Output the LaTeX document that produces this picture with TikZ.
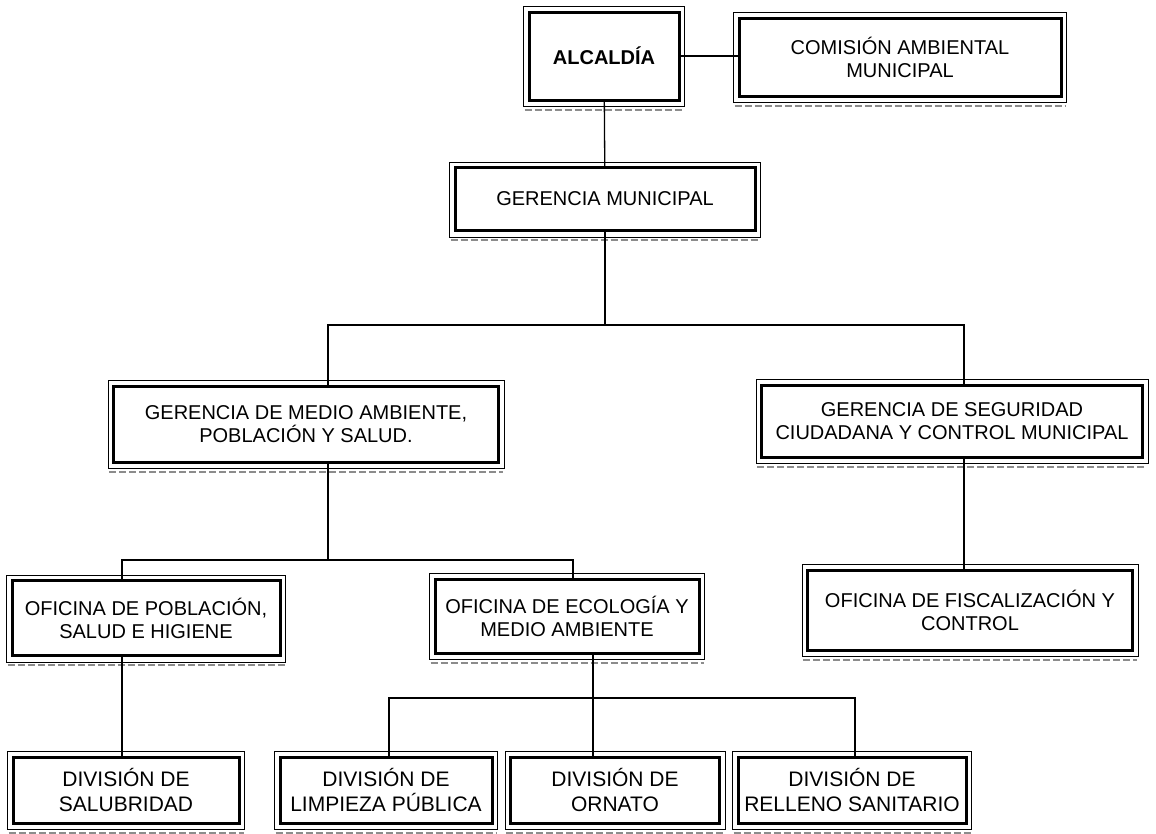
\documentclass[tikz,border=0pt]{standalone}
\usepackage{fontspec}
\setmainfont{Liberation Sans}
\usetikzlibrary{positioning, calc}

\tikzset{
    unit/.style={draw, line width=3pt, fill=white, align=center, inner sep=1pt,
        font=\fontsize{20}{23}\selectfont},
    link/.style={line width=1.3pt},
}

\begin{document}
\begin{tikzpicture}[x=1pt, y=-1pt]
    \useasboundingbox (0,0) rectangle (1156,833);

    % Top - mayor and commission
    \node[unit, minimum width=150pt, minimum height=88pt, font=\bfseries\fontsize{20}{23}\selectfont] (alc) at (604,56) {ALCALDÍA};
    \node[unit, minimum width=322pt, minimum height=78pt] (com) at (900,57) {COMISIÓN AMBIENTAL\\MUNICIPAL};
    \node[unit, minimum width=300pt, minimum height=63pt] (gm) at (605,199) {GERENCIA MUNICIPAL};

    % Second level - the two managements
    \node[unit, minimum width=385pt, minimum height=76pt] (gma) at (306,424) {GERENCIA DE MEDIO AMBIENTE,\\POBLACIÓN Y SALUD.};
    \node[unit, minimum width=381pt, minimum height=72pt] (gsc) at (952,421) {GERENCIA DE SEGURIDAD\\CIUDADANA Y CONTROL MUNICIPAL};

    % Third level - offices
    \node[unit, minimum width=268pt, minimum height=75pt] (ops) at (146,618) {OFICINA DE POBLACIÓN,\\SALUD E HIGIENE};
    \node[unit, minimum width=264pt, minimum height=74pt] (oem) at (567,616) {OFICINA DE ECOLOGÍA Y\\MEDIO AMBIENTE};
    \node[unit, minimum width=325pt, minimum height=80pt] (ofc) at (970,610) {OFICINA DE FISCALIZACIÓN Y\\CONTROL};

    % Bottom - divisions
    \node[unit, minimum width=226pt, minimum height=66pt, font=\fontsize{21}{25}\selectfont] (sal) at (126,790) {DIVISIÓN DE\\SALUBRIDAD};
    \node[unit, minimum width=212pt, minimum height=66pt, font=\fontsize{21}{25}\selectfont] (lim) at (386,790) {DIVISIÓN DE\\LIMPIEZA PÚBLICA};
    \node[unit, minimum width=209pt, minimum height=66pt, font=\fontsize{21}{25}\selectfont] (orn) at (615,790) {DIVISIÓN DE\\ORNATO};
    \node[unit, minimum width=228pt, minimum height=66pt, font=\fontsize{21}{25}\selectfont] (rel) at (852,790) {DIVISIÓN DE\\RELLENO SANITARIO};

    % thin outer frames and shadow under every box
    \foreach \n in {alc,com,gm,gma,gsc,ops,oem,ofc,sal,lim,orn,rel} {
        \draw[line width=0.8pt] ([shift={(-4pt,4pt)}]\n.north west) rectangle ([shift={(4pt,-5pt)}]\n.south east);
        \draw[black!45, line width=2pt, dash pattern=on 7pt off 3pt] ([shift={(-3pt,-8pt)}]\n.south west) -- ([shift={(3pt,-8pt)}]\n.south east);
    }

    % bus coordinates
    \coordinate (j1) at (605,325);
    \coordinate (j1l) at (328,325);
    \coordinate (j1r) at (964,325);
    \coordinate (j2) at (328,560);
    \coordinate (j2l) at (122,560);
    \coordinate (j2r) at (573,560);
    \coordinate (j3) at (593,698);
    \coordinate (j3l) at (389,698);
    \coordinate (j3r) at (855,698);

    % connectors
    \draw[link] (alc.east) -- (alc.east -| com.west);
    \draw[link] (alc) -- (gm);
    \draw[link] (gm) -- (j1);
    \draw[link] (j1l |- gma.north) -- (j1l) -- (j1r) -- (j1r |- gsc.north);
    \draw[link] (j2 |- gma.south) -- (j2);
    \draw[link] (j2l |- ops.north) -- (j2l) -- (j2r) -- (j2r |- oem.north);
    \draw[link] (j1r |- gsc.south) -- (j1r |- ofc.north);
    \draw[link] (j2l |- ops.south) -- (j2l |- sal.north);
    \draw[link] (j3 |- oem.south) -- (j3) -- (j3 |- orn.north);
    \draw[link] (j3l |- lim.north) -- (j3l) -- (j3r) -- (j3r |- rel.north);
\end{tikzpicture}
\end{document}
